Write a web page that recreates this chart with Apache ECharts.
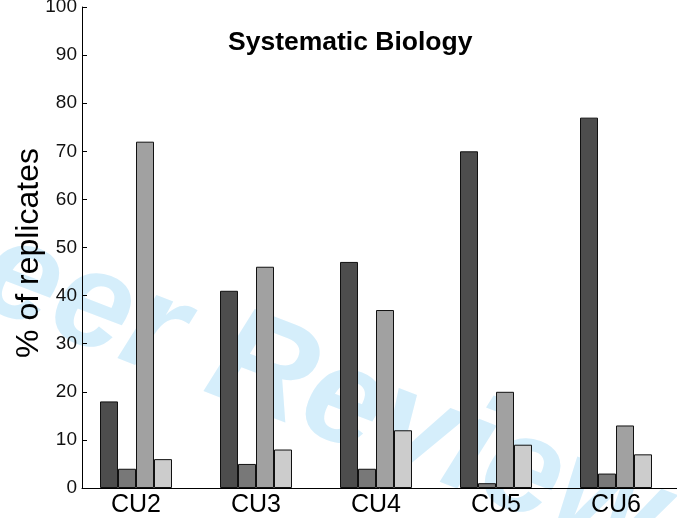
<!DOCTYPE html>
<html>
<head>
<meta charset="utf-8">
<script src="https://cdn.jsdelivr.net/npm/echarts@6/dist/echarts.min.js"></script>
<style>
html,body{margin:0;padding:0;background:#fff;}
#c{width:677px;height:518px;}
</style>
</head>
<body>
<div id="c"></div>
<script>
var categories = ['CU2', 'CU3', 'CU4', 'CU5', 'CU6'];
var seriesA = [18, 41, 47, 70, 77];
var seriesB = [4, 5, 4, 1, 3];
var seriesC = [72, 46, 37, 20, 13];
var seriesD = [6, 8, 12, 9, 7];
var yTicks = [0, 10, 20, 30, 40, 50, 60, 70, 80, 90, 100];

var FONT = 'Liberation Sans, Arial, Helvetica, sans-serif';
var colors = ['#4d4d4d', '#787878', '#a1a1a1', '#cccccc'];
var allSeries = [seriesA, seriesB, seriesC, seriesD];

var chart = echarts.init(document.getElementById('c'), null, {renderer: 'canvas'});

var option = {
  animation: false,
  backgroundColor: '#ffffff',
  title: {
    text: 'Systematic Biology',
    left: 228,
    top: 29,
    padding: 0,
    textStyle: {fontFamily: FONT, fontWeight: 'bold', fontSize: 26.5, color: '#000'}
  },
  graphic: [{
    type: 'text',
    z: -10,
    silent: true,
    x: -125,
    y: 298,
    rotation: -0.367,
    style: {
      text: 'Peer Review',
      font: 'italic bold 138px ' + FONT,
      fill: '#d5eefb',
      textAlign: 'left',
      textVerticalAlign: 'bottom'
    }
  }],
  grid: [
    {left: 76, width: 600, top: 7, height: 481, outerBoundsMode: 'none', containLabel: false},
    {left: 82, right: 0, top: 7, height: 481, outerBoundsMode: 'none', containLabel: false}
  ],
  xAxis: [
    {
      gridIndex: 0, type: 'category', data: categories,
      axisLine: {show: false}, axisTick: {show: false},
      axisLabel: {fontFamily: FONT, fontSize: 25, color: '#000', margin: 5}
    },
    {
      gridIndex: 1, type: 'value', min: 0, max: 1,
      axisLine: {show: true, onZero: false, lineStyle: {color: '#000', width: 1}},
      axisTick: {show: false}, axisLabel: {show: false}, splitLine: {show: false}
    }
  ],
  yAxis: [
    {gridIndex: 0, type: 'value', min: 0, max: 100, show: false},
    {
      gridIndex: 1, type: 'value', min: yTicks[0], max: yTicks[yTicks.length - 1], interval: 10,
      name: '% of replicates', nameLocation: 'middle', nameGap: 37, nameMoveOverlap: false,
      nameTextStyle: {fontFamily: FONT, fontSize: 32, color: '#000', padding: [0, 11, 0, 0]},
      axisLine: {show: true, lineStyle: {color: '#000', width: 1}},
      axisTick: {show: true, inside: true, length: 5, lineStyle: {color: '#000'}},
      axisLabel: {fontFamily: FONT, fontSize: 19, color: '#111', margin: 5},
      splitLine: {show: false}
    }
  ],
  series: allSeries.map(function (d, i) {
    return {
      type: 'bar', xAxisIndex: 0, yAxisIndex: 0,
      data: d, barWidth: 18, barGap: '0%',
      itemStyle: {color: colors[i], borderColor: '#111', borderWidth: 1}
    };
  })
};
chart.setOption(option);
</script>
</body>
</html>
